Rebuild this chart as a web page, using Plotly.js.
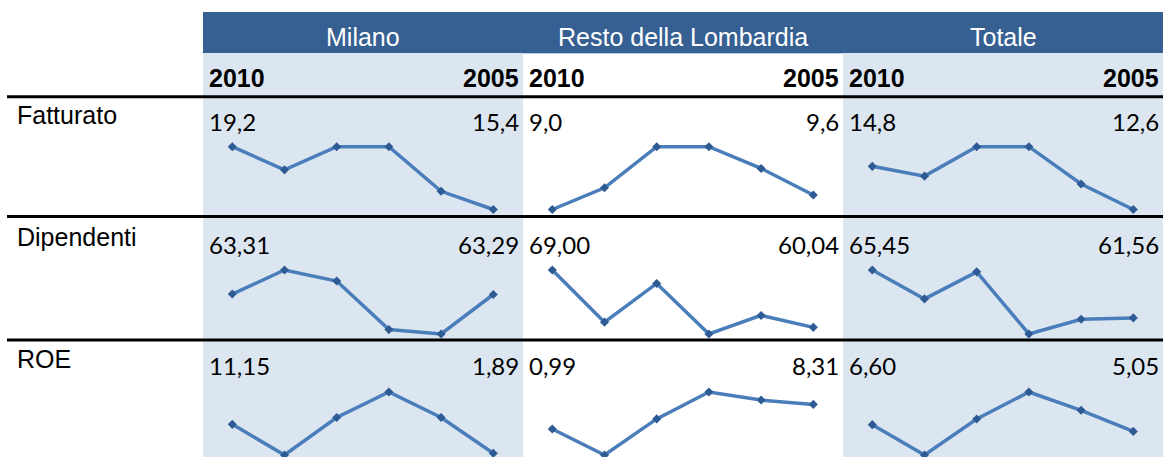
<!DOCTYPE html>
<html>
<head>
<meta charset="utf-8">
<script src="https://cdn.plot.ly/plotly-3.0.1.min.js"></script>
<style>html,body{margin:0;padding:0;background:#fff;}#chart{width:1163px;height:457px;}</style>
</head>
<body>
<div id="chart"></div>
<script>
// ---- data ----
const columns = ['Milano', 'Resto della Lombardia', 'Totale'];
const rowLabels = ['Fatturato', 'Dipendenti', 'ROE'];
const yearFirst = '2010';
const yearLast = '2005';
const years = [2010, 2009, 2008, 2007, 2006, 2005];
const decimals = [1, 2, 2];

const fatturatoMilano = [19.2, 17.8, 19.2, 19.2, 16.5, 15.4];
const fatturatoResto  = [9.0, 9.9, 11.6, 11.6, 10.7, 9.6];
const fatturatoTotale = [14.8, 14.3, 15.8, 15.8, 13.9, 12.6];

const dipendentiMilano = [63.31, 64.4, 63.9, 61.7, 61.5, 63.29];
const dipendentiResto  = [69.00, 60.85, 66.9, 59.0, 61.9, 60.04];
const dipendentiTotale = [65.45, 63.1, 65.3, 60.25, 61.45, 61.56];

const roeMilano = [11.15, 1.35, 13.35, 21.5, 13.35, 1.89];
const roeResto  = [0.99, -6.74, 4.0, 12.0, 9.6, 8.31];
const roeTotale = [6.60, -0.37, 7.9, 14.1, 9.9, 5.05];

const series = [
  [fatturatoMilano, fatturatoResto, fatturatoTotale],
  [dipendentiMilano, dipendentiResto, dipendentiTotale],
  [roeMilano, roeResto, roeTotale]
];

// ---- layout geometry (pixels) ----
const W = 1163, H = 457;
const colX = [203, 523, 843, 1163];
const sparkLeftOff = 29.3, sparkRightOff = 290.3;
const sparkRows = [[146.7, 209.5], [270, 334], [392, 455]];
const rowLabelY = [115.5, 237, 358.5];
const valueY = [122, 244, 365];
const ruleY = [96.7, 216.5, 340];

const HEADER_BLUE = '#366092';
const LIGHT = '#dce6f1';
const LINE_BLUE = '#4a7ebb';
const MARK_BLUE = '#2f5b94';

const px = x => x / W;
const py = y => 1 - y / H;

const shapes = [];
const annotations = [];

function rect(x0, y0, x1, y1, color) {
  shapes.push({type: 'rect', xref: 'paper', yref: 'paper', x0: px(x0), x1: px(x1), y0: py(y1), y1: py(y0),
    fillcolor: color, line: {width: 0}, layer: 'below'});
}
function hline(x0, x1, y, color, w) {
  shapes.push({type: 'line', xref: 'paper', yref: 'paper', x0: px(x0), x1: px(x1), y0: py(y), y1: py(y),
    line: {color: color, width: w}, layer: 'above'});
}
function text(t, x, y, anchor, font) {
  annotations.push({text: t, xref: 'paper', yref: 'paper', x: px(x), y: py(y), xanchor: anchor, yanchor: 'middle',
    showarrow: false, font: font, borderpad: 0});
}

// backgrounds
rect(203, 12, 1163, 53, HEADER_BLUE);
rect(colX[0], 53, colX[1], H, LIGHT);
rect(colX[2], 53, colX[3], H, LIGHT);
hline(colX[1], colX[2], 53.5, '#b8cce4', 1);

// rules
ruleY.forEach(y => hline(7, W, y, '#000000', 3));

const headFont = {family: 'Liberation Sans, Arial, sans-serif', size: 25, color: '#ffffff'};
const subFont = {family: 'Liberation Sans, Arial, sans-serif', size: 25, color: '#000000', weight: 'bold'};
const labelFont = {family: 'Liberation Sans, Arial, sans-serif', size: 25, color: '#000000'};
const valFont = {family: 'Lato, Carlito, Calibri, sans-serif', size: 24, color: '#000000'};

columns.forEach((c, i) => {
  text(c, (colX[i] + colX[i + 1]) / 2, 37.5, 'center', headFont);
  text('<b>' + yearFirst + '</b>', colX[i] + 5, 78, 'left', subFont);
  text('<b>' + yearLast + '</b>', colX[i + 1] - 3, 78, 'right', subFont);
});
rowLabels.forEach((r, j) => text(r, 16, rowLabelY[j], 'left', labelFont));

const fmt = (v, d) => v.toFixed(d).replace('.', ',');

const traces = [];
const layout = {
  width: W, height: H, margin: {l: 0, r: 0, t: 0, b: 0},
  paper_bgcolor: '#ffffff', plot_bgcolor: 'rgba(0,0,0,0)', showlegend: false,
  shapes: shapes, annotations: annotations
};

let n = 0;
for (let r = 0; r < 3; r++) {
  for (let c = 0; c < 3; c++) {
    n++;
    const vals = series[r][c];
    const xs = years.map((_, k) => k);
    const ymin = Math.min(...vals), ymax = Math.max(...vals);
    const [top, bot] = sparkRows[r];
    const k = (ymax - ymin) / (bot - top);
    const padT = 5, padB = Math.min(5, H - bot);
    const xL = colX[c] + sparkLeftOff, xR = colX[c] + sparkRightOff;
    const kx = 5 / (xR - xL);
    const xa = 'xaxis' + (n === 1 ? '' : n), ya = 'yaxis' + (n === 1 ? '' : n);
    layout[xa] = {domain: [px(xL - 6), px(xR + 6)], range: [-6 * kx, 5 + 6 * kx], visible: false, fixedrange: true};
    layout[ya] = {domain: [py(bot + padB), py(top - padT)], range: [ymin - padB * k, ymax + padT * k], visible: false, fixedrange: true};
    traces.push({
      type: 'scatter', mode: 'lines+markers', x: xs, y: vals,
      xaxis: 'x' + (n === 1 ? '' : n), yaxis: 'y' + (n === 1 ? '' : n),
      line: {color: LINE_BLUE, width: 3.5}, marker: {symbol: 'diamond', size: 7, color: MARK_BLUE},
      cliponaxis: false, hoverinfo: 'skip'
    });
    text(fmt(vals[0], decimals[r]), colX[c] + 5, valueY[r], 'left', valFont);
    text(fmt(vals[vals.length - 1], decimals[r]), colX[c + 1] - 3, valueY[r], 'right', valFont);
  }
}

Plotly.newPlot('chart', traces, layout, {staticPlot: true, displayModeBar: false});
</script>
</body>
</html>
